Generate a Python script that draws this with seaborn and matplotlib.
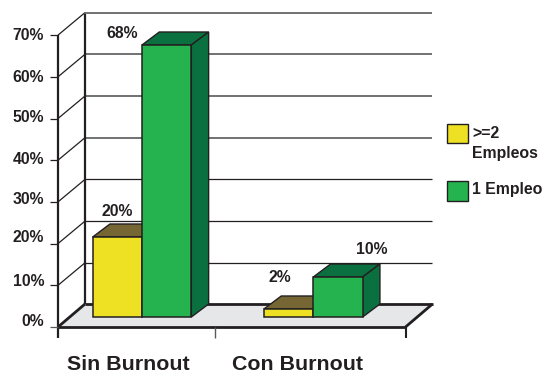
import matplotlib
matplotlib.use("Agg")
import matplotlib.pyplot as plt
from matplotlib.patches import Polygon, Rectangle
from matplotlib.transforms import Affine2D
import pandas as pd
import seaborn as sns

categories = ["Sin Burnout", "Con Burnout"]
series_names = [">=2 Empleos", "1 Empleo"]
values_two_jobs = [20, 2]
values_one_job = [68, 10]
axis_ticks = [0, 10, 20, 30, 40, 50, 60, 70]

W, H = 544, 373
INK = "#231F20"
GRID = "#58595B"
FRONT = ["#EEE124", "#25B34F"]
TOP = ["#766634", "#0B7040"]
SIDE = ["#766634", "#0B7040"]
FLOOR = "#E6E7E8"

sns.set_theme(style="white")
plt.rcParams["font.family"] = ["Liberation Sans", "DejaVu Sans"]

df = pd.DataFrame({
    "cat": categories * 2,
    "serie": [series_names[0]] * 2 + [series_names[1]] * 2,
    "val": values_two_jobs + values_one_job,
})

fig = plt.figure(figsize=(W / 100, H / 100), dpi=100)
ax = fig.add_axes([0, 0, 1, 1])
sns.barplot(data=df, x="cat", y="val", hue="serie", order=categories,
            hue_order=series_names, palette=FRONT, saturation=1, width=0.576,
            gap=0, edgecolor=INK, linewidth=1.1, legend=False, ax=ax, zorder=5)

# bar scale: category step in px, 4 px per percent, baseline at y=317 px
PX_X, PX_Y = 171.3, 4.0
ax.set_xlim(-142.0 / PX_X, (W - 142.0) / PX_X)
ax.set_ylim(-(H - 317) / PX_Y, 317 / PX_Y)
ax.axis("off")

px = Affine2D().scale(1 / W, -1 / H).translate(0, 1) + fig.transFigure


def line(xs, ys, color=INK, lw=1.0, z=2):
    ax.plot(xs, ys, color=color, lw=lw, transform=px, zorder=z,
            clip_on=False, solid_capstyle="butt")


def axis_y(v):
    return 327 - 4.17 * v


# floor
ax.add_patch(Polygon([(58, 327), (405.5, 327), (432.5, 304), (85, 304)],
                     closed=True, fc=FLOOR, ec="none", transform=px, zorder=1))
line([85, 432.5], [304, 304], INK, 2.0, 2)
line([432.5, 405.5], [304, 327], INK, 2.0, 2)
line([58, 405.5], [327, 327], INK, 2.0, 2)
line([85, 58], [304, 327], INK, 2.0, 2)

# walls and grid
line([85, 85], [14, 304], INK, 1.6, 2)
line([58, 58], [axis_y(70), 338], INK, 1.6, 2)
line([215, 215], [327, 338], GRID, 1.0, 2)
line([405.5, 405.5], [327, 338], INK, 1.5, 2)
for v in axis_ticks[1:]:
    y = axis_y(v)
    line([85, 431.5], [y - 22.5, y - 22.5], GRID if v >= 40 else INK,
         1.2 if v >= 40 else 0.9, 1.5)
    line([58, 85], [y, y - 22.5], INK, 0.9, 2)
for v in axis_ticks:
    line([50, 58], [axis_y(v), axis_y(v)], INK if v else GRID, 0.9, 2)

# tick labels
label_y = [321, 281, 238, 199, 159, 118, 77, 36]
for v, y in zip(axis_ticks, label_y):
    ax.text(44, y, f"{v}%", transform=px, ha="right", va="center",
            fontsize=11.3, fontweight="bold", color=INK)

for name, xc in zip(categories, [128, 298]):
    ax.text(xc, 364, name, transform=px, ha="center", va="center",
            fontsize=15.4, fontweight="bold", color=INK)

# 3D faces derived from each bar
dx, dy = 17.3 / PX_X, 13.0 / PX_Y
for i, cont in enumerate(ax.containers):
    for bar in cont:
        x0, w, h = bar.get_x(), bar.get_width(), bar.get_height()
        ax.add_patch(Polygon([(x0, h), (x0 + w, h), (x0 + w + dx, h + dy), (x0 + dx, h + dy)],
                             closed=True, fc=TOP[i], ec=INK, lw=1.0, zorder=3))
        ax.add_patch(Polygon([(x0 + w, 0), (x0 + w + dx, dy), (x0 + w + dx, h + dy), (x0 + w, h)],
                             closed=True, fc=SIDE[i], ec=INK, lw=1.0, zorder=3 + i))

# value labels, offset in pixels from the top centre of each bar
offsets = [[(0, 25), (-9, 31)], [(-45, 12), (34, 27)]]
for cont, vals, offs in zip(ax.containers, [values_two_jobs, values_one_job], offsets):
    for bar, val, off in zip(cont, vals, offs):
        xc = bar.get_x() + bar.get_width() / 2
        ax.annotate(f"{val}%", (xc, bar.get_height()), xytext=off,
                    textcoords="offset pixels", ha="center", va="center",
                    fontsize=11.3, fontweight="bold", color=INK, zorder=7)

# legend
for (y0, y1), c, lab, ty in zip([(124, 143), (181, 200.5)], FRONT,
                                [">=2\nEmpleos", "1 Empleo"], [126, 182]):
    ax.add_patch(Rectangle((446.5, y0), 21, y1 - y0, fc=c, ec=INK, lw=1.0,
                           transform=px, zorder=3, clip_on=False))
    ax.text(472, ty, lab, transform=px, ha="left", va="top", linespacing=1.45,
            fontsize=11.4, fontweight="bold", color=INK)

fig.savefig("out.png", dpi=100)
